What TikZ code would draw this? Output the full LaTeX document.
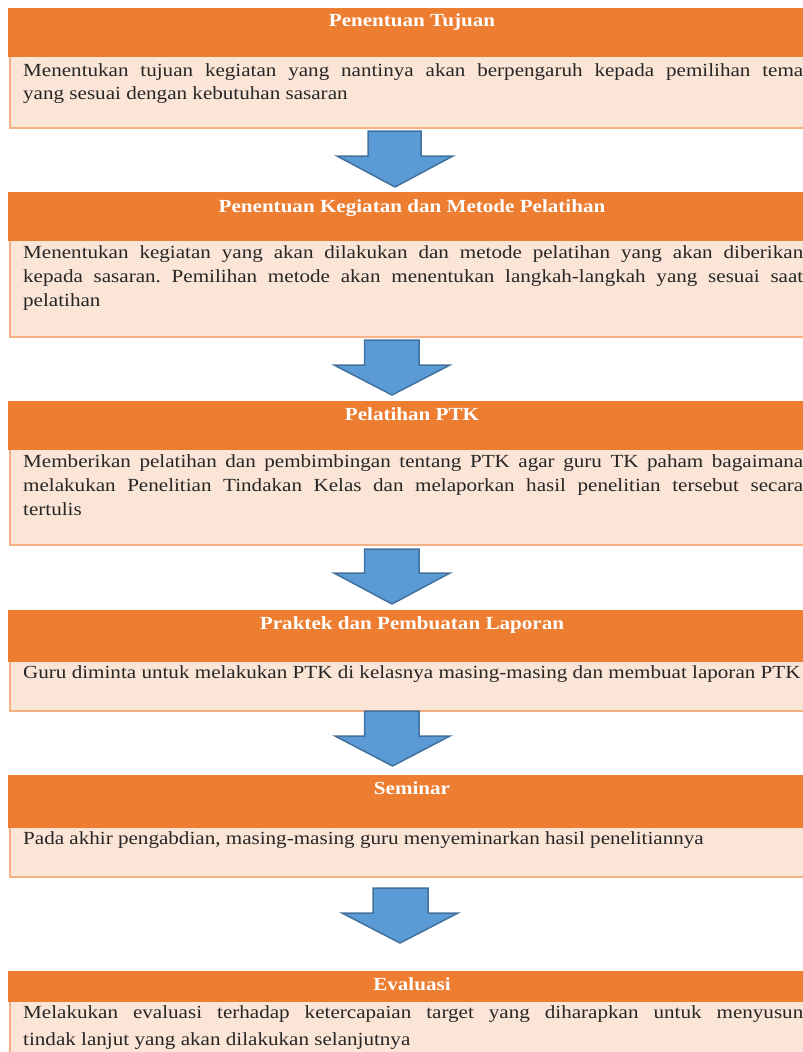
\documentclass[tikz,border=0pt]{standalone}
\usepackage{fontspec}
\newfontfamily\bodyf[FakeStretch=1.14]{Liberation Serif}
\frenchspacing
\definecolor{hdr}{HTML}{ED7D31}
\definecolor{bdy}{HTML}{FBE5D6}
\definecolor{bdr}{HTML}{F4B183}
\definecolor{arf}{HTML}{5B9BD5}
\definecolor{ard}{HTML}{41719C}
\definecolor{txt}{HTML}{262626}
\newcommand{\jl}[1]{\makebox[780pt][s]{#1}}
\newcommand{\bodypar}[1]{\parbox[t]{790pt}{\raggedright\frenchspacing #1}}
\tikzset{
  hdrbox/.style={fill=hdr, draw=none, inner sep=0, anchor=north west, minimum width=806pt},
  bdybox/.style={fill=bdy, draw=bdr, line width=2pt, inner sep=0, anchor=north west, minimum width=806pt},
  headtext/.style={text=white, inner sep=0, anchor=base, font=\bodyf\bfseries\fontsize{18.5}{22}\selectfont},
  bodytext/.style={text=txt, inner sep=0, anchor=base west, font=\bodyf\fontsize{18.5}{24}\selectfont},
  blockarrow/.style={fill=arf, draw=ard, line width=1.5pt, line join=miter}
}
\newcommand{\blkarrow}[8]{% name, sl, sr, hl, hr, top, wing, tip
  \coordinate (#1) at ({(#4+#5)/2},#8);
  \draw[blockarrow] (#2,#6) -- (#3,#6) -- (#3,#7) -- (#5,#7) -- (#1) -- (#4,#7) -- (#2,#7) -- cycle;
}
\begin{document}
\begin{tikzpicture}[x=1pt,y=-1pt]
\useasboundingbox (0,0) rectangle (803,1052);
\clip (0,0) rectangle (803,1052);

% Box 1
\node[bdybox, minimum height=118pt] (b1) at (9,9) {};
\node[hdrbox, minimum height=49pt] (h1) at (8,8) {};
\node[headtext] (t1) at (412,27) {Penentuan Tujuan};
\node[bodytext] (d1) at (23,76) {\bodypar{\jl{Menentukan tujuan kegiatan yang nantinya akan berpengaruh kepada pemilihan tema}\\[-1pt]yang sesuai dengan kebutuhan sasaran}};

% Box 2
\node[bdybox, minimum height=143pt] (b2) at (9,193) {};
\node[hdrbox, minimum height=49pt] (h2) at (8,192) {};
\node[headtext] (t2) at (412,212) {Penentuan Kegiatan dan Metode Pelatihan};
\node[bodytext] (d2) at (23,258) {\bodypar{\jl{Menentukan kegiatan yang akan dilakukan dan metode pelatihan yang akan diberikan}\\\jl{kepada sasaran. Pemilihan metode akan menentukan langkah-langkah yang sesuai saat}\\pelatihan}};

% Box 3
\node[bdybox, minimum height=142pt] (b3) at (9,402) {};
\node[hdrbox, minimum height=49pt] (h3) at (8,401) {};
\node[headtext] (t3) at (412,420) {Pelatihan PTK};
\node[bodytext] (d3) at (23,467) {\bodypar{\jl{Memberikan pelatihan dan pembimbingan tentang PTK agar guru TK paham bagaimana}\\\jl{melakukan Penelitian Tindakan Kelas dan melaporkan hasil penelitian tersebut secara}\\tertulis}};

% Box 4
\node[bdybox, minimum height=99pt] (b4) at (9,611) {};
\node[hdrbox, minimum height=52pt] (h4) at (8,610) {};
\node[headtext] (t4) at (412,629) {Praktek dan Pembuatan Laporan};
\node[bodytext] (d4) at (23,678) {Guru diminta untuk melakukan PTK di kelasnya masing-masing dan membuat laporan PTK};

% Box 5
\node[bdybox, minimum height=100pt] (b5) at (9,776) {};
\node[hdrbox, minimum height=53pt] (h5) at (8,775) {};
\node[headtext] (t5) at (412,794) {Seminar};
\node[bodytext] (d5) at (23,844) {Pada akhir pengabdian, masing-masing guru menyeminarkan hasil penelitiannya};

% Box 6
\node[bdybox, minimum height=120pt] (b6) at (9,972) {};
\node[hdrbox, minimum height=31pt] (h6) at (8,971) {};
\node[headtext] (t6) at (412,990) {Evaluasi};
\node[bodytext] (d6) at (23,1018) {\bodypar{\jl{Melakukan evaluasi terhadap ketercapaian target yang diharapkan untuk menyusun}\\[3pt]tindak lanjut yang akan dilakukan selanjutnya}};

% Arrows
\blkarrow{a1}{368}{421}{337}{453}{131}{156}{187}
\blkarrow{a2}{364.5}{419}{334}{450}{340}{365}{395}
\blkarrow{a3}{364.5}{419}{334}{450}{549}{573}{604}
\blkarrow{a4}{364.5}{419}{335}{450}{711}{736}{766}
\blkarrow{a5}{373}{428}{342}{458}{888}{913}{943}
\end{tikzpicture}
\end{document}
